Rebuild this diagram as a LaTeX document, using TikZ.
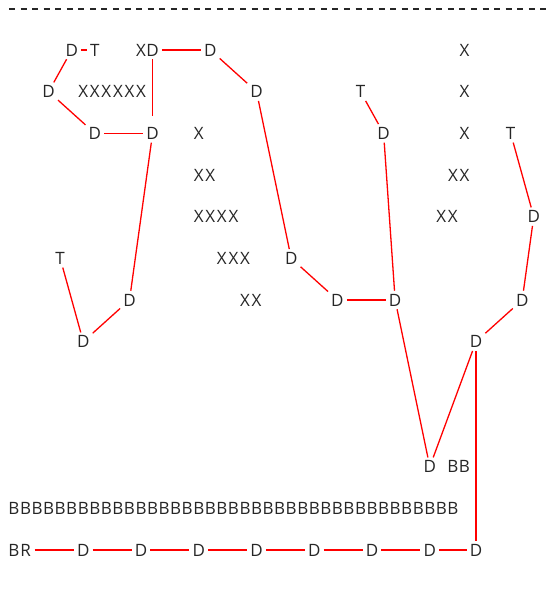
\documentclass[tikz,border=0pt]{standalone}
\usepackage{fontspec}
\setmainfont{Open Sans}
\usepackage{xcolor}
\usepackage{tikz}

%% one character per grid cell
\newlength{\cellw}\setlength{\cellw}{11.55pt}
\newcommand{\cells}[1]{\cellsloop#1\relax}
\def\cellsloop#1{\ifx\relax#1\else\makebox[\cellw]{#1}\expandafter\cellsloop\fi}

\begin{document}
\begin{tikzpicture}[
    x=11.55pt, y=-41.667pt,
    %% ── Styles ────────────────────────────────────────────────
    glyph/.style={
        inner sep=3pt,
        font=\fontsize{17}{19}\selectfont,
        text=black!85
    },
    link/.style={draw=red, line width=1.3pt},
    rule/.style={draw=black!85, line width=1.5pt, dash pattern=on 6pt off 5.55pt}
]
\useasboundingbox (-14pt,50pt) rectangle (534pt,-539pt);

%% ── Top rule ───────────────────────────────────────────────────
\coordinate (ruleL) at (-5pt,41pt);
\coordinate (ruleR) at (534pt,41pt);
\draw [rule] (ruleL) -- (ruleR);

%% ── Nodes (row by row, at column/row of the grid) ──────────────
\node (d1)  [glyph] at (5,0)    {D};
\node (t1)  [glyph] at (7,0)    {T};
\node (x1)  [glyph] at (11,0)   {X};
\node (d2)  [glyph] at (12,0)   {D};
\node (d3)  [glyph] at (17,0)   {D};
\node (x2)  [glyph] at (39,0)   {X};

\node (d4)  [glyph] at (3,1)    {D};
\node (x3)  [glyph] at (8.5,1)  {\cells{XXXXXX}};
\node (d5)  [glyph] at (21,1)   {D};
\node (t2)  [glyph] at (30,1)   {T};
\node (x4)  [glyph] at (39,1)   {X};

\node (d6)  [glyph] at (7,2)    {D};
\node (d7)  [glyph] at (12,2)   {D};
\node (x5)  [glyph] at (16,2)   {X};
\node (d8)  [glyph] at (32,2)   {D};
\node (x6)  [glyph] at (39,2)   {X};
\node (t3)  [glyph] at (43,2)   {T};

\node (x7)  [glyph] at (16.5,3) {\cells{XX}};
\node (x8)  [glyph] at (38.5,3) {\cells{XX}};

\node (x9)  [glyph] at (17.5,4) {\cells{XXXX}};
\node (x10) [glyph] at (37.5,4) {\cells{XX}};
\node (d9)  [glyph] at (45,4)   {D};

\node (t4)  [glyph] at (4,5)    {T};
\node (x11) [glyph] at (19,5)   {\cells{XXX}};
\node (d10) [glyph] at (24,5)   {D};

\node (d11) [glyph] at (10,6)   {D};
\node (x12) [glyph] at (20.5,6) {\cells{XX}};
\node (d12) [glyph] at (28,6)   {D};
\node (d13) [glyph] at (33,6)   {D};
\node (d14) [glyph] at (44,6)   {D};

\node (d15) [glyph] at (6,7)    {D};
\node (d16) [glyph] at (40,7)   {D};

\node (d17) [glyph] at (36,10)  {D};
\node (b1)  [glyph] at (38.5,10) {\cells{BB}};

\node (b2)  [glyph] at (19,11)  {\cells{BBBBBBBBBBBBBBBBBBBBBBBBBBBBBBBBBBBBBBB}};

\node (br)  [glyph] at (0.5,12) {\cells{BR}};
\node (r1)  [glyph] at (6,12)   {D};
\node (r2)  [glyph] at (11,12)  {D};
\node (r3)  [glyph] at (16,12)  {D};
\node (r4)  [glyph] at (21,12)  {D};
\node (r5)  [glyph] at (26,12)  {D};
\node (r6)  [glyph] at (31,12)  {D};
\node (r7)  [glyph] at (36,12)  {D};
\node (r8)  [glyph] at (40,12)  {D};

%% ── Red links ──────────────────────────────────────────────────
%% Left loop
\draw [link] (d1)  -- (t1);
\draw [link] (d1)  -- (d4);
\draw [link] (d4)  -- (d6);
\draw [link] (d6)  -- (d7);
\draw [link, shorten >=8pt] (d2) -- (d7);
\draw [link] (d2)  -- (d3);
\draw [link] (d3)  -- (d5);
\draw [link] (d7)  -- (d11);
\draw [link] (t4)  -- (d15);
\draw [link] (d15) -- (d11);
%% Middle branch
\draw [link] (d5)  -- (d10);
\draw [link] (d10) -- (d12);
\draw [link] (d12) -- (d13);
\draw [link] (t2)  -- (d8);
\draw [link] (d8)  -- (d13);
\draw [link] (d13) -- (d17);
%% Right branch
\draw [link] (d17) -- (d16);
\draw [link] (d16) -- (d14);
\draw [link] (d14) -- (d9);
\draw [link] (d9)  -- (t3);
\draw [link] (d16) -- (r8);
%% Bottom chain
\draw [link] (br)  -- (r1);
\draw [link] (r1)  -- (r2);
\draw [link] (r2)  -- (r3);
\draw [link] (r3)  -- (r4);
\draw [link] (r4)  -- (r5);
\draw [link] (r5)  -- (r6);
\draw [link] (r6)  -- (r7);
\draw [link] (r7)  -- (r8);

\end{tikzpicture}
\end{document}
